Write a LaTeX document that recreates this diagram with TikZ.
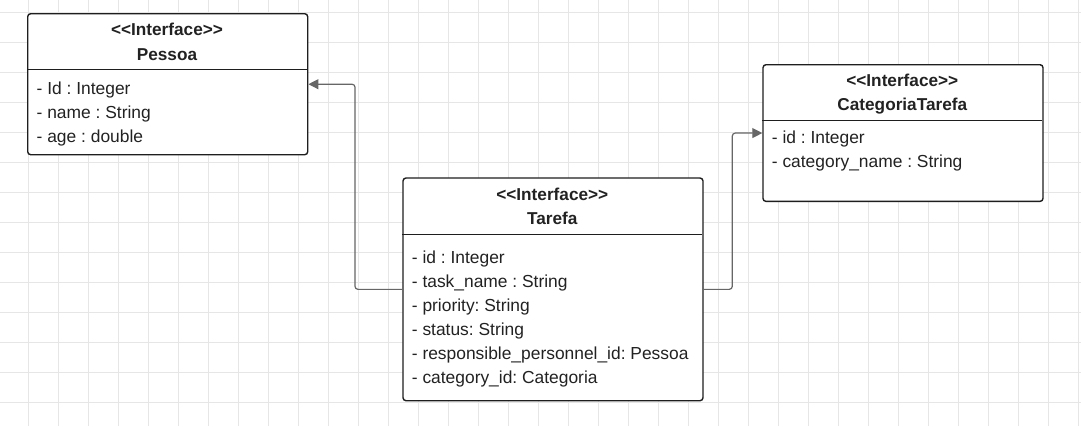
\documentclass[tikz,border=0pt]{standalone}
\usepackage{fontspec}
\setmainfont{Liberation Sans}
\usetikzlibrary{arrows.meta}
\definecolor{gridgray}{HTML}{E6E6E6}
\definecolor{boxline}{HTML}{1E1E1E}
\definecolor{inkc}{HTML}{222222}
\definecolor{conngray}{HTML}{666666}
% stereotype label, with the angle brackets kept as separate characters
\newcommand{\stereotype}[1]{<\kern0pt<#1>\kern0pt>}
\tikzset{
  gridline/.style={draw=gridgray, line width=0.9pt},
  umlbox/.style={draw=boxline, fill=white, line width=1.4pt, rounded corners=3pt,
    rectangle, inner sep=0pt},
  divider/.style={draw=boxline, line width=1.2pt},
  stereo/.style={anchor=base, inner sep=0pt, text=inkc,
    font=\fontsize{17.2}{20}\selectfont\bfseries\frenchspacing},
  attr/.style={anchor=base west, inner sep=0pt, text=inkc,
    font=\fontsize{17.4}{20}\selectfont\frenchspacing},
  conn/.style={draw=conngray, line width=1.2pt, rounded corners=3pt,
    -{Triangle[length=10pt,width=10pt]}},
}
\begin{document}
\begin{tikzpicture}[x=1pt,y=-1pt]
\useasboundingbox (0,0) rectangle (1081,426);
\fill[white] (0,0) rectangle (1081,426);
% background grid
\foreach \k in {0,...,35} \draw[gridline] ({28.3+30*\k},0) -- ({28.3+30*\k},426);
\foreach \k in {0,...,13} \draw[gridline] (0,{12+30*\k}) -- (1081,{12+30*\k});

% Pessoa
\node[umlbox, anchor=north west, minimum width=280pt, minimum height=141pt] (pessoa) at (27,13) {};
\draw[divider] (27,69.3) -- (307,69.3);
\node[stereo] (pessoaSt) at (167,35.5) {\stereotype{Interface}};
\node[stereo] (pessoaNm) at (167,60) {Pessoa};
\node[attr] (pa1) at (36.5,94.3) {- Id : Integer};
\node[attr] (pa2) at (36.5,118.3) {- name : String};
\node[attr] (pa3) at (36.5,142.3) {- age : double};

% Tarefa
\node[umlbox, anchor=north west, minimum width=300pt, minimum height=222.7pt] (tarefa) at (402.3,177.3) {};
\draw[divider] (402.3,234.3) -- (702.3,234.3);
\node[stereo] (tarefaSt) at (552.3,200) {\stereotype{Interface}};
\node[stereo] (tarefaNm) at (552.3,224) {Tarefa};
\node[attr] (ta1) at (411.7,263.3) {- id : Integer};
\node[attr] (ta2) at (411.7,287.3) {- task\_name : String};
\node[attr] (ta3) at (411.7,311.3) {- priority: String};
\node[attr] (ta4) at (411.7,335.3) {- status: String};
\node[attr] (ta5) at (411.7,359.3) {- responsible\_personnel\_id: Pessoa};
\node[attr] (ta6) at (411.7,383.3) {- category\_id: Categoria};

% CategoriaTarefa
\node[umlbox, anchor=north west, minimum width=280pt, minimum height=136.7pt] (cat) at (762.3,64) {};
\draw[divider] (762.3,120.3) -- (1042.3,120.3);
\node[stereo] (catSt) at (902.3,86.7) {\stereotype{Interface}};
\node[stereo] (catNm) at (902.3,110.7) {CategoriaTarefa};
\node[attr] (ca1) at (771.7,143.3) {- id : Integer};
\node[attr] (ca2) at (771.7,167.3) {- category\_name : String};

% connectors
\coordinate (bendL) at (355,0);
\coordinate (bendR) at (732.3,0);
\draw[conn] (tarefa.west) -- (tarefa.west -| bendL) |- (pessoa.east);
\draw[conn] (tarefa.east) -- (tarefa.east -| bendR) |- (cat.west);
\end{tikzpicture}
\end{document}
